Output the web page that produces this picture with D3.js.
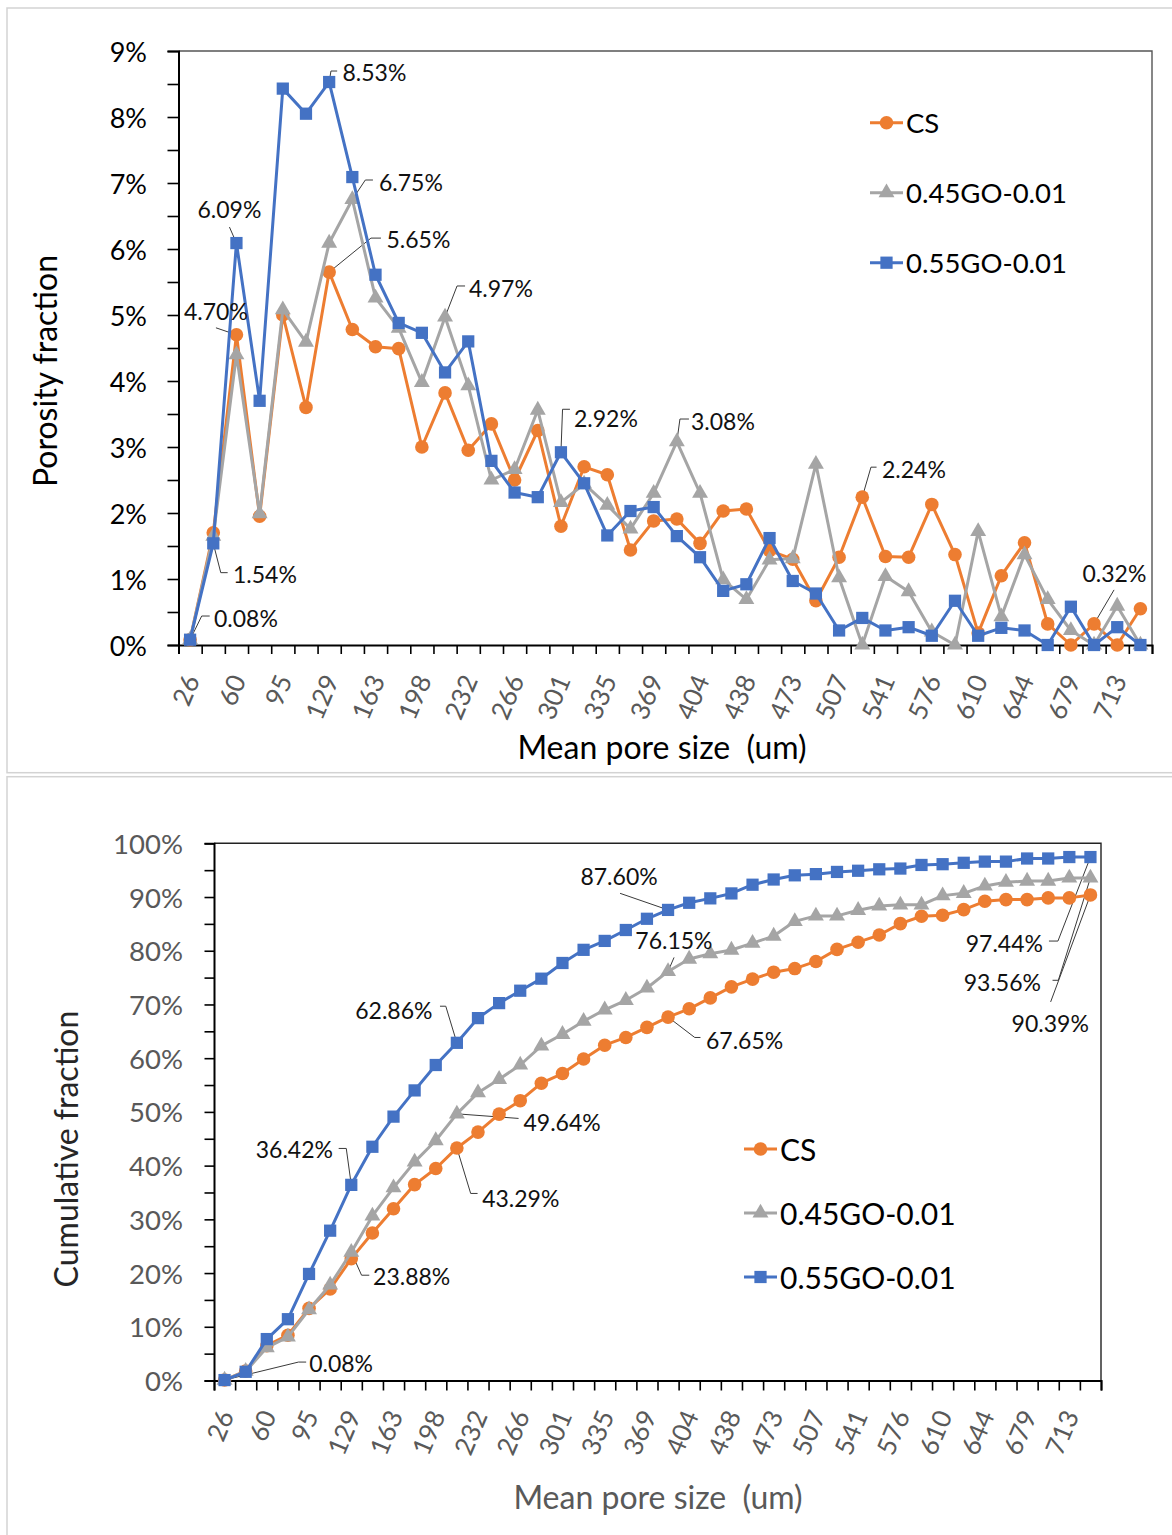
<!DOCTYPE html>
<html><head><meta charset="utf-8">
<script src="https://cdn.jsdelivr.net/npm/d3@7"></script>
<style>
body{margin:0;background:#fff}
svg text{font-family:Lato,"Noto Sans",sans-serif}
.pre{white-space:pre}
</style>
</head><body>
<svg id="c" width="1172" height="1535"></svg>
<script>
// ---------- DATA ----------
const categories = ["26","43","60","78","95","112","129","146","163","181","198","215","232","249","266","284","301","318","335","352","369","387","404","421","438","456","473","490","507","524","541","558","576","593","610","627","644","662","679","696","713","730"];
const tickLabels = ["26","60","95","129","163","198","232","266","301","335","369","404","438","473","507","541","576","610","644","679","713"];
const seriesNames = ["CS","0.45GO-0.01","0.55GO-0.01"];
// Porosity fraction (%)
const csFraction   = [0.08,1.70,4.70,1.95,5.00,3.60,5.65,4.78,4.52,4.49,3.00,3.82,2.95,3.35,2.50,3.25,1.80,2.70,2.58,1.44,1.88,1.91,1.54,2.03,2.06,1.43,1.30,0.67,1.33,2.24,1.34,1.33,2.13,1.37,0.18,1.05,1.55,0.32,0.00,0.32,0.00,0.55];
const go45Fraction = [0.08,1.65,4.40,1.99,5.08,4.59,6.09,6.75,5.26,4.80,3.98,4.97,3.93,2.50,2.66,3.56,2.16,2.44,2.12,1.76,2.30,3.08,2.30,0.99,0.69,1.29,1.31,2.74,1.02,0.00,1.04,0.81,0.20,0.00,1.72,0.43,1.37,0.69,0.22,0.00,0.59,0.00];
const go55Fraction = [0.08,1.54,6.09,3.70,8.43,8.05,8.53,7.09,5.61,4.88,4.73,4.13,4.60,2.79,2.31,2.24,2.92,2.45,1.66,2.03,2.09,1.65,1.33,0.82,0.92,1.62,0.97,0.78,0.22,0.41,0.22,0.27,0.14,0.67,0.14,0.26,0.22,0.00,0.58,0.00,0.27,0.00];
// Cumulative fraction (%)
const csCumulative   = [0.08,1.78,6.48,8.43,13.43,17.03,22.68,27.46,31.98,36.47,39.47,43.29,46.24,49.59,52.09,55.34,57.14,59.84,62.42,63.86,65.74,67.65,69.19,71.22,73.28,74.71,76.01,76.68,78.01,80.25,81.59,82.92,85.05,86.42,86.60,87.65,89.20,89.52,89.52,89.84,89.84,90.39];
const go45Cumulative = [0.08,1.73,6.13,8.12,13.20,17.79,23.88,30.63,35.89,40.69,44.67,49.64,53.57,56.07,58.73,62.29,64.45,66.89,69.01,70.77,73.07,76.15,78.45,79.44,80.13,81.42,82.73,85.47,86.49,86.49,87.53,88.34,88.54,88.54,90.26,90.69,92.06,92.75,92.97,92.97,93.56,93.56];
const go55Cumulative = [0.08,1.62,7.71,11.41,19.84,27.89,36.42,43.51,49.12,54.00,58.73,62.86,67.46,70.25,72.56,74.80,77.72,80.17,81.83,83.86,85.95,87.60,88.93,89.75,90.67,92.29,93.26,94.04,94.26,94.67,94.89,95.16,95.30,95.97,96.11,96.37,96.59,96.59,97.17,97.17,97.44,97.44];
const topYTicks = [0,1,2,3,4,5,6,7,8,9];
const bottomYTicks = [0,10,20,30,40,50,60,70,80,90,100];

// ---------- STYLE ----------
const colors = ["#ED7D31","#A5A5A5","#4472C4"];
const shapes = [d3.symbolCircle, d3.symbolTriangle, d3.symbolSquare];
const shapeSize = [145, 110, 150];

// data label definitions (series index, category index, offsets relative to the point)
const topLabels = [
  {s:2,i:6, dx:13.3,dy:-10, a:"start", leader:[[1.8,-11],[8,-11]]},
  {s:1,i:7, dx:26.6,dy:-17.5,a:"start", leader:[[13,-19.5],[20.6,-19.5]]},
  {s:2,i:2, dx:-7,dy:-34, a:"middle", leader:[[-7,-16]]},
  {s:0,i:6, dx:57.3,dy:-33, a:"start", leader:[[41.8,-34],[51.8,-34]]},
  {s:1,i:11,dx:23.9,dy:-29, a:"start", leader:[[12,-31],[20,-31]]},
  {s:0,i:2, dx:-52.5,dy:-24, a:"start", leader:[[-20.5,-7]]},
  {s:2,i:1, dx:19.7,dy:30.6, a:"start", leader:[[7.5,29.3],[14.4,29.3]]},
  {s:2,i:0, dx:23.9,dy:-21.7, a:"start", leader:[[11.6,-23.7],[19.6,-23.7]]},
  {s:2,i:16,dx:13,dy:-34, a:"start", leader:[[1.6,-43],[9,-43]]},
  {s:1,i:21,dx:14.1,dy:-21, a:"start", leader:[[3.1,-22.7],[12.1,-22.7]]},
  {s:0,i:29,dx:19.7,dy:-28, a:"start", leader:[[8.7,-30],[14.3,-30]]},
  {s:0,i:39,dx:20.4,dy:-51, a:"middle", leader:[[20,-34]]}
];
const bottomLabels = [
  {s:2,i:21,dx:-49,dy:-33.6, a:"middle", leader:[[-48,-16.6]]},
  {s:1,i:21,dx:5.9,dy:-31, a:"middle", leader:[[6,-14]]},
  {s:0,i:21,dx:37.9,dy:23, a:"start", leader:[[26.7,20.4],[32.4,20.4]]},
  {s:2,i:11,dx:-24.4,dy:-33.3, a:"end", leader:[[-11.1,-36.6],[-16.9,-36.6]]},
  {s:1,i:11,dx:66.6,dy:8, a:"start", leader:[[61.7,4.6]]},
  {s:0,i:11,dx:25.3,dy:50.5, a:"start", leader:[[13.8,45.5],[20.7,45.5]]},
  {s:2,i:6, dx:-18.3,dy:-35.4, a:"end", leader:[[-5,-36.4],[-12.6,-36.4]]},
  {s:1,i:6, dx:21.8,dy:24, a:"start", leader:[[10.3,23],[18,23]]},
  {s:2,i:0, dx:84.6,dy:-16.8, a:"start", leader:[[73.9,-18],[81.6,-18]]},
  {s:2,i:41,dx:-47.5,dy:86, a:"end", leader:[[-32.5,84],[-41.5,84]]},
  {s:1,i:41,dx:-49.5,dy:104, a:"end", leader:[[-32.1,102.4],[-37.9,102.4]]},
  {s:0,i:41,dx:-40.2,dy:128, a:"middle", leader:[[-39.8,107]]}
];

const svg = d3.select("#c");

// panel borders
svg.append("rect").attr("x",7).attr("y",8).attr("width",1200).attr("height",764.7)
  .attr("fill","none").attr("stroke","#d3d3d3").attr("stroke-width",1.5);
svg.append("rect").attr("x",7).attr("y",776.7).attr("width",1200).attr("height",800)
  .attr("fill","none").attr("stroke","#d3d3d3").attr("stroke-width",1.5);

function drawPanel(cfg){
  const g = svg.append("g");
  const x = d3.scaleBand().domain(categories).range([cfg.x0,cfg.x1]).padding(0);
  const xb = d3.scaleLinear().domain([0,categories.length]).range([cfg.x0,cfg.x1]);
  const y = d3.scaleLinear().domain([0,cfg.yMax]).range([cfg.yb,cfg.yt]);
  const cx = c => x(c) + x.bandwidth()/2;

  // frame (top + right)
  g.append("path").attr("d",`M${cfg.x0},${cfg.yt}H${cfg.x1}V${cfg.yb}`)
    .attr("fill","none").attr("stroke",cfg.frame).attr("stroke-width",1.4);

  // y axis
  const minor = d3.range(0,cfg.yMax+cfg.minor/2,cfg.minor);
  const ya = g.append("g").attr("transform",`translate(${cfg.x0},0)`)
    .call(d3.axisLeft(y).tickValues(minor).tickSize(cfg.ytick).tickFormat(""));
  ya.select(".domain").attr("stroke","#000").attr("stroke-width",2);
  ya.selectAll(".tick line").attr("stroke","#000").attr("stroke-width",1.6);
  g.selectAll(".ylab").data(cfg.yTicks).join("text")
    .attr("x",cfg.ylabX).attr("y",d=>y(d)).attr("text-anchor","end")
    .attr("dominant-baseline","central").attr("font-size",cfg.ylabSize)
    .attr("fill",cfg.ylabColor).text(d=>d+"%");

  // x axis ticks (between categories)
  const xa = g.append("g").attr("transform",`translate(0,${cfg.yb})`)
    .call(d3.axisBottom(xb).tickValues(d3.range(categories.length+1)).tickSize(cfg.xtick).tickFormat(""));
  xa.select(".domain").attr("stroke","#000").attr("stroke-width",2);
  xa.selectAll(".tick line").attr("stroke","#000").attr("stroke-width",1.6);
  g.selectAll(".xlab").data(tickLabels).join("text")
    .attr("transform",d=>`translate(${cx(d)+1},${cfg.yb+31}) rotate(-67)`)
    .attr("text-anchor","end").attr("dominant-baseline","central")
    .attr("font-size",26).attr("fill","#595959").text(d=>d);

  // axis titles
  g.append("text").attr("transform",`translate(${cfg.ytX},${cfg.ytY}) rotate(-90)`)
    .attr("text-anchor","middle").attr("font-size",32).attr("fill",cfg.ytColor).text(cfg.yTitle);
  g.append("text").attr("class","pre").attr("x",cfg.xtX).attr("y",cfg.xtY)
    .attr("text-anchor","middle").attr("font-size",32).attr("fill",cfg.xtColor).text("Mean pore size  (um)");

  // leaders (under markers)
  const pt = (l) => [cx(categories[l.i]), y(cfg.series[l.s][l.i])];
  cfg.labels.forEach(l=>{
    const [px,py] = pt(l);
    const pts = [[px,py]].concat(l.leader.map(o=>[px+o[0],py+o[1]]));
    g.append("path").attr("d",d3.line()(pts)).attr("fill","none")
      .attr("stroke","#3a3a3a").attr("stroke-width",1);
  });

  // series
  const line = d3.line().x((d,i)=>cx(categories[i])).y(d=>y(d));
  cfg.series.forEach((vals,s)=>{
    g.append("path").attr("d",line(vals)).attr("fill","none")
      .attr("stroke",colors[s]).attr("stroke-width",3).attr("stroke-linejoin","round");
    g.selectAll(".m"+s).data(vals).join("path")
      .attr("transform",(d,i)=>`translate(${cx(categories[i])},${y(d)})`)
      .attr("d",d3.symbol().type(shapes[s]).size(shapeSize[s])).attr("fill",colors[s]);
  });

  // data labels
  cfg.labels.forEach(l=>{
    const [px,py] = pt(l);
    g.append("text").attr("x",px+l.dx).attr("y",py+l.dy).attr("text-anchor",l.a)
      .attr("dominant-baseline","central").attr("font-size",23).attr("fill","#111")
      .text(cfg.series[l.s][l.i].toFixed(2)+"%");
  });

  // legend
  seriesNames.forEach((n,s)=>{
    const ly = cfg.legY[s];
    g.append("line").attr("x1",cfg.legX).attr("x2",cfg.legX+33).attr("y1",ly).attr("y2",ly)
      .attr("stroke",colors[s]).attr("stroke-width",3);
    g.append("path").attr("transform",`translate(${cfg.legX+16.5},${ly})`)
      .attr("d",d3.symbol().type(shapes[s]).size(shapeSize[s])).attr("fill",colors[s]);
    g.append("text").attr("x",cfg.legX+36).attr("y",ly).attr("dominant-baseline","central")
      .attr("font-size",cfg.legSize).attr("fill","#000").text(n);
  });
}

drawPanel({
  x0:178.5, x1:1152, yt:51, yb:645, yMax:9, minor:0.5, yTicks:topYTicks,
  ytick:11, xtick:9, ylabX:147, ylabSize:27, ylabColor:"#000", frame:"#555",
  yTitle:"Porosity fraction", ytX:57, ytY:371, ytColor:"#000",
  xtX:662, xtY:759, xtColor:"#000",
  series:[csFraction, go45Fraction, go55Fraction], labels:topLabels,
  legX:870, legY:[122.7,192.7,262.7], legSize:27.5
});
drawPanel({
  x0:214, x1:1101, yt:843.3, yb:1380.5, yMax:100, minor:5, yTicks:bottomYTicks,
  ytick:9.5, xtick:10, ylabX:183, ylabSize:27.5, ylabColor:"#595959", frame:"#222",
  yTitle:"Cumulative fraction", ytX:78, ytY:1149, ytColor:"#262626",
  xtX:658, xtY:1509, xtColor:"#595959",
  series:[csCumulative, go45Cumulative, go55Cumulative], labels:bottomLabels,
  legX:744, legY:[1149,1213,1277], legSize:30
});
</script>
</body></html>
